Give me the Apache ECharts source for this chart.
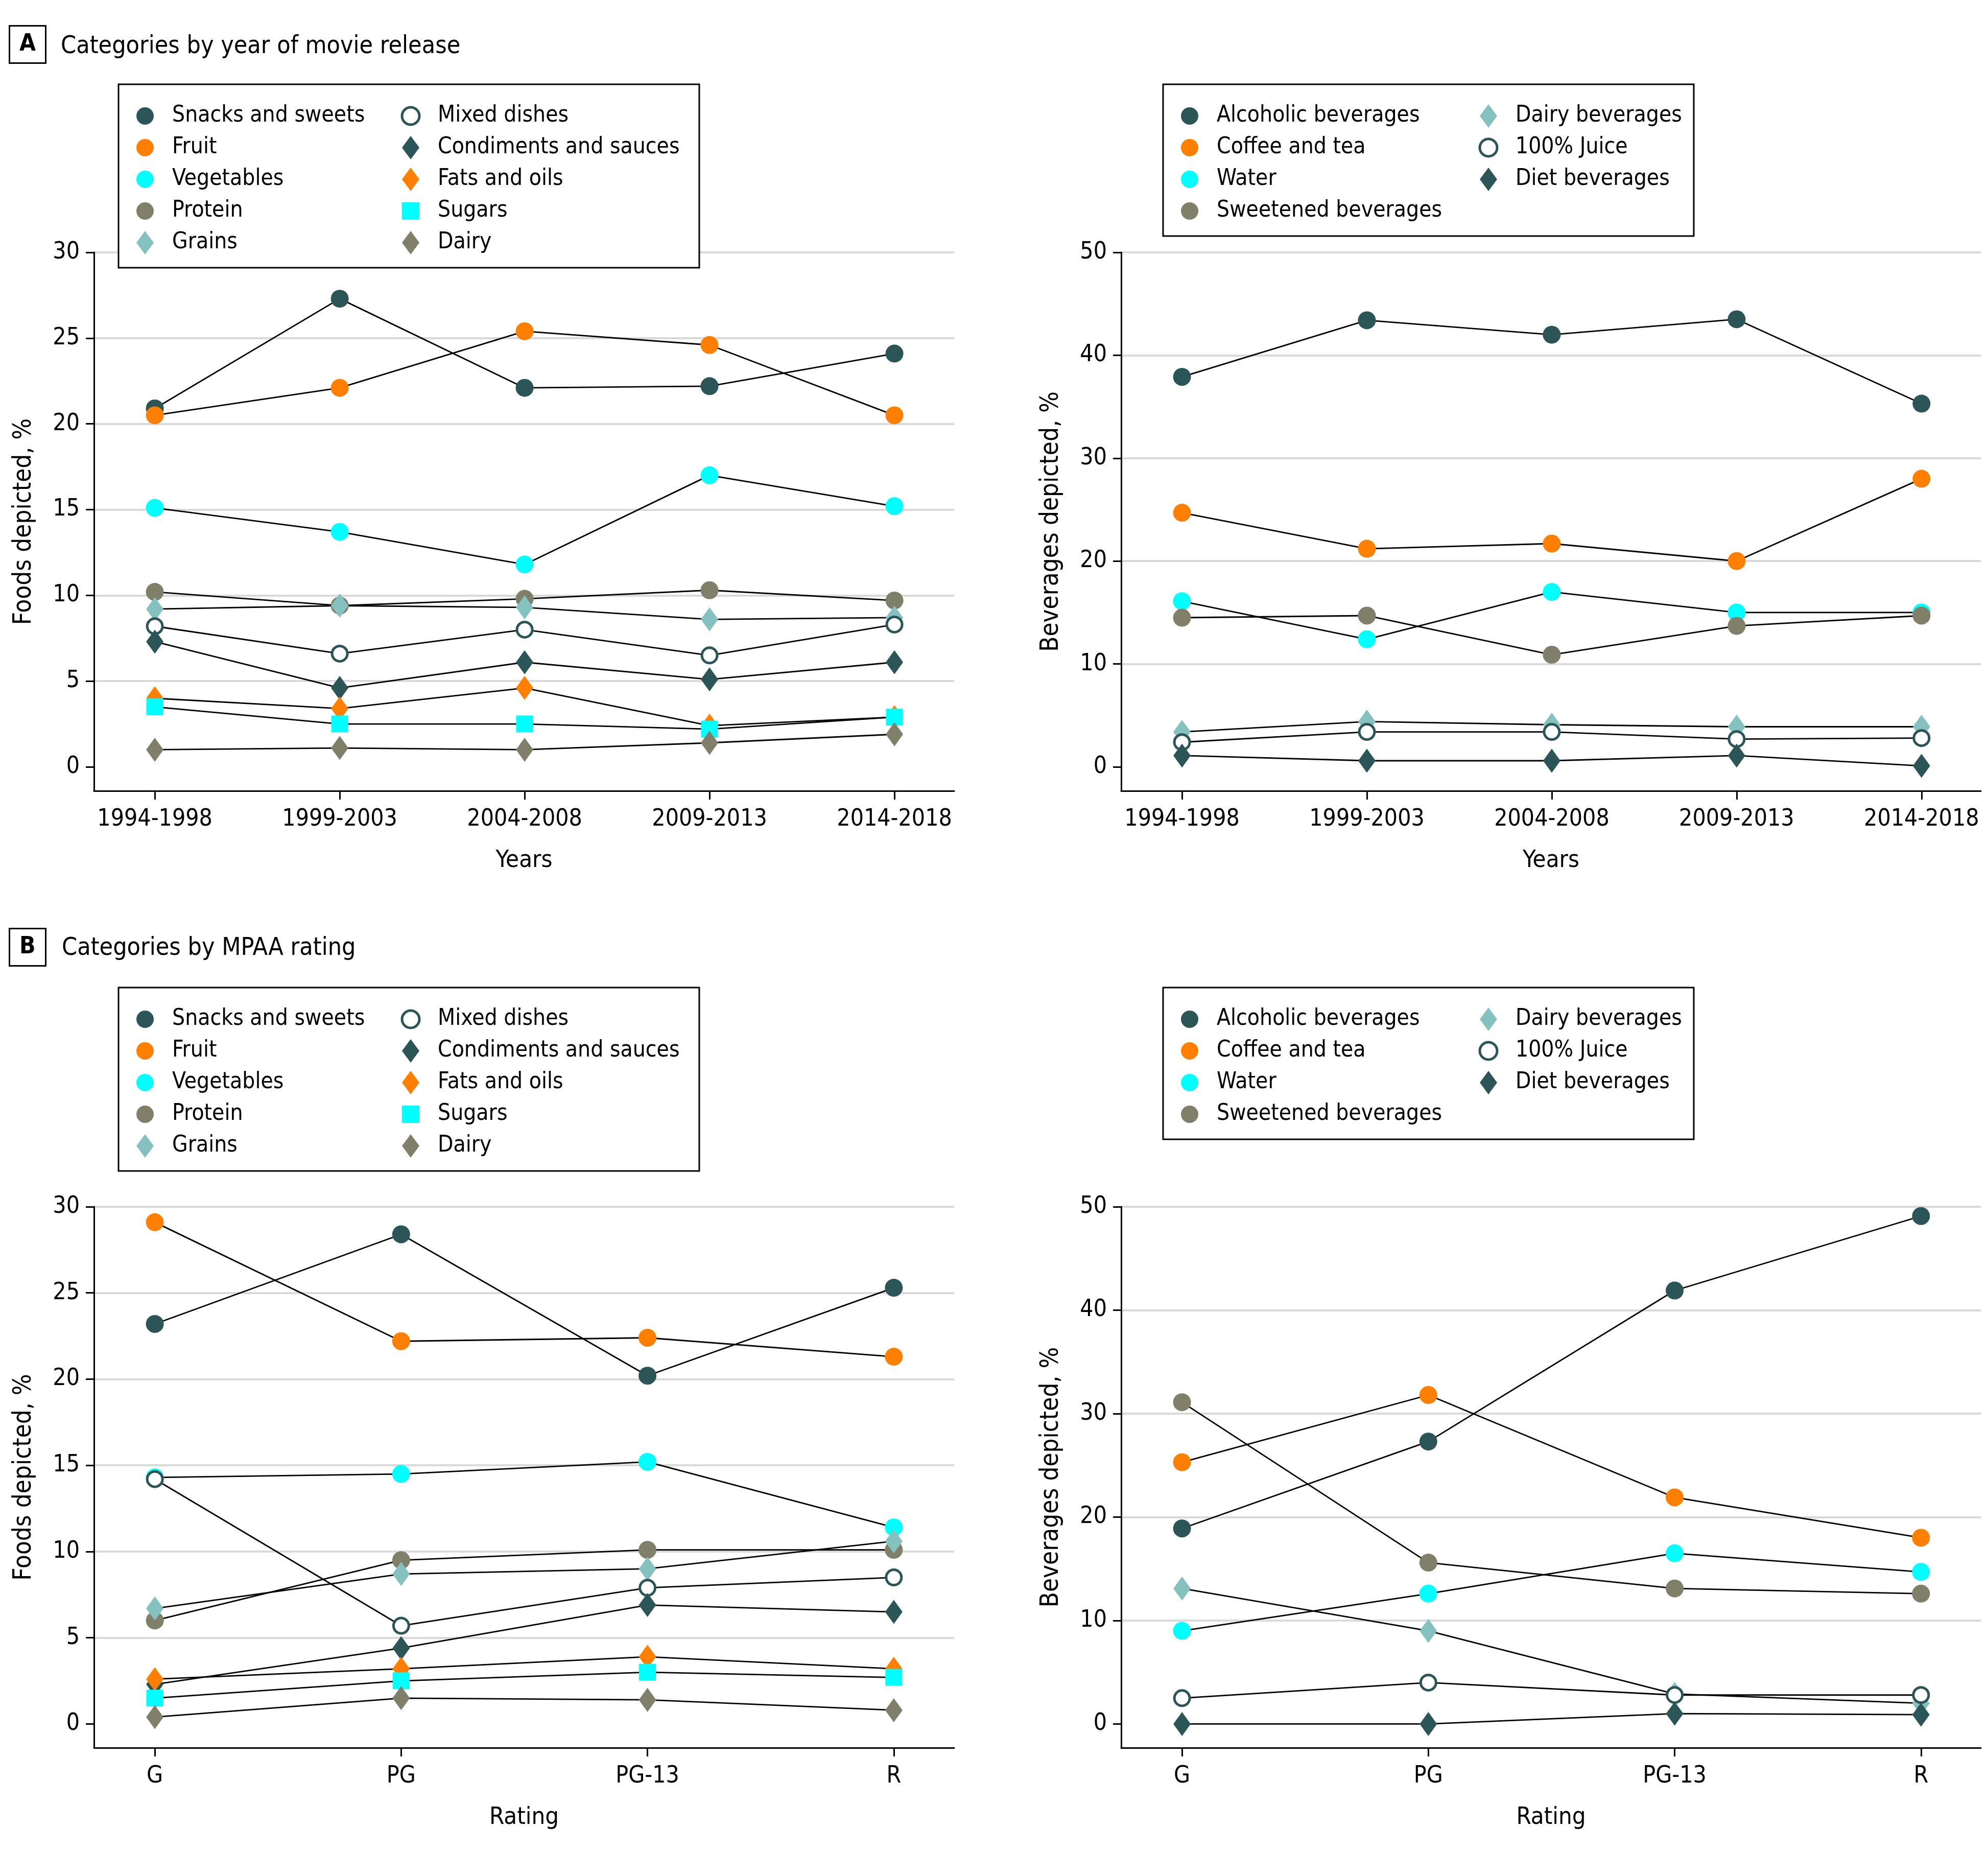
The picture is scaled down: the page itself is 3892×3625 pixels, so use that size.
<!DOCTYPE html>
<html>
<head>
<meta charset="utf-8">
<title>Foods and beverages depicted in movies</title>
<script src="https://cdn.jsdelivr.net/npm/echarts@6/dist/echarts.min.js"></script>
<style>
  html, body { margin: 0; padding: 0; background: #fff; }
  #chart { width: 3892px; height: 3625px; }
</style>
</head>
<body>
<div id="chart"></div>
<script>
var FONT = "'DejaVu Sans Condensed', 'Liberation Sans Narrow', 'DejaVu Sans', sans-serif";

// axis categories and ticks
var yearCats = ['1994-1998', '1999-2003', '2004-2008', '2009-2013', '2014-2018'];
var ratingCats = ['G', 'PG', 'PG-13', 'R'];
var foodTicks = [0, 5, 10, 15, 20, 25, 30];
var bevTicks = [0, 10, 20, 30, 40, 50];

var foodNames = ['Snacks and sweets', 'Fruit', 'Vegetables', 'Protein', 'Grains',
  'Mixed dishes', 'Condiments and sauces', 'Fats and oils', 'Sugars', 'Dairy'];
var bevNames = ['Alcoholic beverages', 'Coffee and tea', 'Water', 'Sweetened beverages',
  'Dairy beverages', '100% Juice', 'Diet beverages'];

// A, foods by year of release (%)
var yrSnacks = [20.9, 27.3, 22.1, 22.2, 24.1];
var yrFruit = [20.5, 22.1, 25.4, 24.6, 20.5];
var yrVegetables = [15.1, 13.7, 11.8, 17.0, 15.2];
var yrProtein = [10.2, 9.4, 9.8, 10.3, 9.7];
var yrGrains = [9.2, 9.4, 9.3, 8.6, 8.7];
var yrMixed = [8.2, 6.6, 8.0, 6.5, 8.3];
var yrCondiments = [7.3, 4.6, 6.1, 5.1, 6.1];
var yrFats = [4.0, 3.4, 4.6, 2.4, 2.9];
var yrSugars = [3.5, 2.5, 2.5, 2.2, 2.9];
var yrDairy = [1.0, 1.1, 1.0, 1.4, 1.9];

// A, beverages by year of release (%)
var yrAlcohol = [37.9, 43.4, 42.0, 43.5, 35.3];
var yrCoffee = [24.7, 21.2, 21.7, 20.0, 28.0];
var yrWater = [16.1, 12.4, 17.0, 15.0, 15.0];
var yrSweetened = [14.5, 14.7, 10.9, 13.7, 14.7];
var yrDairyBev = [3.4, 4.4, 4.1, 3.9, 3.9];
var yrJuice = [2.4, 3.4, 3.4, 2.7, 2.8];
var yrDiet = [1.1, 0.6, 0.6, 1.1, 0.1];

// B, foods by MPAA rating (%)
var rtSnacks = [23.2, 28.4, 20.2, 25.3];
var rtFruit = [29.1, 22.2, 22.4, 21.3];
var rtVegetables = [14.3, 14.5, 15.2, 11.4];
var rtProtein = [6.0, 9.5, 10.1, 10.1];
var rtGrains = [6.7, 8.7, 9.0, 10.6];
var rtMixed = [14.2, 5.7, 7.9, 8.5];
var rtCondiments = [2.3, 4.4, 6.9, 6.5];
var rtFats = [2.6, 3.2, 3.9, 3.2];
var rtSugars = [1.5, 2.5, 3.0, 2.7];
var rtDairy = [0.4, 1.5, 1.4, 0.8];

// B, beverages by MPAA rating (%)
var rtAlcohol = [18.9, 27.3, 41.9, 49.1];
var rtCoffee = [25.3, 31.8, 21.9, 18.0];
var rtWater = [9.0, 12.6, 16.5, 14.7];
var rtSweetened = [31.1, 15.6, 13.1, 12.6];
var rtDairyBev = [13.1, 9.0, 2.9, 2.0];
var rtJuice = [2.5, 4.0, 2.8, 2.8];
var rtDiet = [0.0, 0.0, 1.0, 0.9];

var TEAL = '#2b5557', ORANGE = '#ff7f00', CYAN = '#00ffff', OLIVE = '#807f6a', LTEAL = '#84c1bf';

var marks = {
  'Snacks and sweets': ['circle', TEAL],
  'Fruit': ['circle', ORANGE],
  'Vegetables': ['circle', CYAN],
  'Protein': ['circle', OLIVE],
  'Grains': ['diamond', LTEAL],
  'Mixed dishes': ['hollow', TEAL],
  'Condiments and sauces': ['diamond', TEAL],
  'Fats and oils': ['diamond', ORANGE],
  'Sugars': ['square', CYAN],
  'Dairy': ['diamond', OLIVE],
  'Alcoholic beverages': ['circle', TEAL],
  'Coffee and tea': ['circle', ORANGE],
  'Water': ['circle', CYAN],
  'Sweetened beverages': ['circle', OLIVE],
  'Dairy beverages': ['diamond', LTEAL],
  '100% Juice': ['hollow', TEAL],
  'Diet beverages': ['diamond', TEAL]
};

var SQUARE = 'path://M0,0L10,0L10,10L0,10Z';

function makeSeries(name, values, panel) {
  var shape = marks[name][0], color = marks[name][1];
  var size = 35, symbol = shape;
  if (shape === 'diamond') size = [34, 47];
  if (shape === 'square') { symbol = 'rect'; size = 33; }
  if (shape === 'hollow') { symbol = 'circle'; size = 30; }
  return {
    name: name,
    type: 'line',
    xAxisIndex: panel,
    yAxisIndex: panel,
    data: values.map(function (v, i) { return [i, v]; }),
    symbol: symbol,
    symbolSize: size,
    showAllSymbol: true,
    lineStyle: { color: '#000', width: 2.8 },
    itemStyle: shape === 'hollow'
      ? { color: '#fff', borderColor: color, borderWidth: 5 }
      : { color: color, borderWidth: 0 },
    emphasis: { disabled: true },
    silent: true
  };
}

function makeLegend(names, perCol, left, top, w1, w2, height) {
  return {
    data: names.map(function (n, i) {
      var shape = marks[n][0];
      var icon = shape === 'square' ? SQUARE : (shape === 'hollow' ? 'circle' : shape);
      var item = { name: n, icon: icon, textStyle: { width: i < perCol ? w1 : w2 } };
      if (shape === 'hollow') item.itemStyle = { borderWidth: 5 };
      return item;
    }),
    orient: 'vertical',
    left: left,
    top: top,
    height: height,
    itemWidth: 34,
    itemHeight: 46,
    itemGap: 16,
    padding: [39, 20, 26, 35],
    borderColor: '#000',
    borderWidth: 3,
    backgroundColor: '#fff',
    selectedMode: false,
    textStyle: { fontFamily: FONT, fontSize: 44, color: '#000', lineHeight: 46, padding: [0, 0, 0, 31] }
  };
}

var grids = [
  { left: 184, top: 494, width: 1684, height: 1054 },
  { left: 2195, top: 494, width: 1683, height: 1054 },
  { left: 184, top: 2362, width: 1684, height: 1059 },
  { left: 2195, top: 2362, width: 1683, height: 1059 }
];
grids.forEach(function (g) { g.outerBoundsMode = 'none'; g.containLabel = false; });

function makeXAxis(panel, cats, min, max, name) {
  var idx = cats.map(function (c, i) { return i; });
  return {
    gridIndex: panel,
    type: 'value',
    min: min,
    max: max,
    name: name,
    nameLocation: 'middle',
    nameGap: 113,
    nameMoveOverlap: false,
    nameTextStyle: { fontFamily: FONT, fontSize: 47, color: '#000' },
    axisLine: { show: true, onZero: false, lineStyle: { color: '#000', width: 3 } },
    axisTick: { show: true, customValues: idx, length: 17, lineStyle: { color: '#000', width: 3 } },
    axisLabel: {
      customValues: idx,
      margin: 33,
      fontFamily: FONT,
      fontSize: 46,
      color: '#000',
      formatter: function (v) { return cats[Math.round(v)]; }
    },
    splitLine: { show: false }
  };
}

function makeYAxis(panel, ticks, min, max, name) {
  return {
    gridIndex: panel,
    type: 'value',
    min: min,
    max: max,
    name: name,
    nameLocation: 'middle',
    nameRotate: 90,
    nameGap: 112,
    nameMoveOverlap: false,
    nameTextStyle: { fontFamily: FONT, fontSize: 49, color: '#000' },
    axisLine: { show: true, onZero: false, lineStyle: { color: '#000', width: 3 } },
    axisTick: { show: true, customValues: ticks, length: 16, lineStyle: { color: '#000', width: 3 } },
    axisLabel: { customValues: ticks, margin: 28, fontFamily: FONT, fontSize: 46, color: '#000' },
    splitLine: { show: true, showMinLine: false, lineStyle: { color: '#d9d9d9', width: 4 } }
  };
}

var series = [];
[yrSnacks, yrFruit, yrVegetables, yrProtein, yrGrains, yrMixed, yrCondiments, yrFats, yrSugars, yrDairy]
  .forEach(function (vals, i) { series.push(makeSeries(foodNames[i], vals, 0)); });
[yrAlcohol, yrCoffee, yrWater, yrSweetened, yrDairyBev, yrJuice, yrDiet]
  .forEach(function (vals, i) { series.push(makeSeries(bevNames[i], vals, 1)); });
[rtSnacks, rtFruit, rtVegetables, rtProtein, rtGrains, rtMixed, rtCondiments, rtFats, rtSugars, rtDairy]
  .forEach(function (vals, i) { series.push(makeSeries(foodNames[i], vals, 2)); });
[rtAlcohol, rtCoffee, rtWater, rtSweetened, rtDairyBev, rtJuice, rtDiet]
  .forEach(function (vals, i) { series.push(makeSeries(bevNames[i], vals, 3)); });

function panelTag(letter, top) {
  return {
    text: letter, left: 18, top: top, padding: [13, 20],
    borderColor: '#000', borderWidth: 3,
    textStyle: { fontFamily: FONT, fontSize: 46, fontWeight: 'bold', color: '#000', lineHeight: 48 }
  };
}
function panelTitle(text, left, top) {
  return {
    text: text, left: left, top: top, padding: 0,
    textStyle: { fontFamily: FONT, fontSize: 48, fontWeight: 'normal', color: '#000', lineHeight: 50 }
  };
}

var option = {
  animation: false,
  backgroundColor: '#fff',
  textStyle: { fontFamily: FONT },
  title: [
    panelTag('A', 50),
    panelTitle('Categories by year of movie release', 119, 67),
    panelTag('B', 1817),
    panelTitle('Categories by MPAA rating', 121, 1832)
  ],
  legend: [
    makeLegend(foodNames, 5, 232, 165, 434, 492, 300),
    makeLegend(bevNames, 4, 2277, 165, 499, 329, 240),
    makeLegend(foodNames, 5, 232, 1933, 434, 492, 300),
    makeLegend(bevNames, 4, 2277, 1933, 499, 329, 240)
  ],
  grid: grids,
  xAxis: [
    makeXAxis(0, yearCats, -0.329, 4.323, 'Years'),
    makeXAxis(1, yearCats, -0.329, 4.321, 'Years'),
    makeXAxis(2, ratingCats, -0.247, 3.245, 'Rating'),
    makeXAxis(3, ratingCats, -0.247, 3.243, 'Rating')
  ],
  yAxis: [
    makeYAxis(0, foodTicks, -1.4, 30, 'Foods depicted, %'),
    makeYAxis(1, bevTicks, -2.33, 50, 'Beverages depicted, %'),
    makeYAxis(2, foodTicks, -1.38, 30, 'Foods depicted, %'),
    makeYAxis(3, bevTicks, -2.3, 50, 'Beverages depicted, %')
  ],
  series: series
};

var chart = echarts.init(document.getElementById('chart'), null, { renderer: 'canvas' });
chart.setOption(option);
</script>
</body>
</html>
